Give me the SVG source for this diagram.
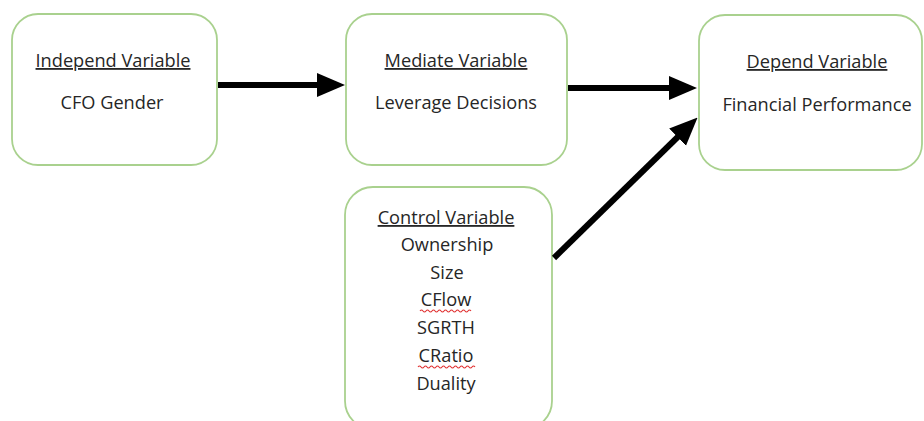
<svg xmlns="http://www.w3.org/2000/svg" width="924" height="421" viewBox="0 0 924 421">
<style>
.box{fill:#fff;stroke:#a9d18e;stroke-width:1.8}
.t{font-family:"Open Sans","Liberation Sans",sans-serif;font-size:18.2px;fill:#262626;text-anchor:middle}
.h{text-decoration:underline}
.c{stroke:#000;stroke-width:6;fill:none}
.sq{stroke:#e03030;stroke-width:1.1;fill:none}
</style>
<defs>
<marker id="ah" markerUnits="userSpaceOnUse" markerWidth="28" markerHeight="28" viewBox="0 0 28 28" refX="16" refY="14" orient="auto">
<path d="M0,2 L28,14 L0,26 Z" fill="#000"/>
</marker>
</defs>
<rect width="924" height="421" fill="#fff"/>
<g id="independ">
<rect class="box" x="12" y="14" width="205" height="151" rx="26"/>
<text class="t h" x="113" y="67">Independ Variable</text>
<text class="t" x="112" y="109">CFO Gender</text>
</g>
<g id="mediate">
<rect class="box" x="346" y="14" width="221" height="151" rx="26"/>
<text class="t h" x="456" y="67">Mediate Variable</text>
<text class="t" x="456" y="109">Leverage Decisions</text>
</g>
<g id="depend">
<rect class="box" x="699" y="15" width="223" height="155" rx="26"/>
<text class="t h" x="817" y="68">Depend Variable</text>
<text class="t" x="817" y="111">Financial Performance</text>
</g>
<g id="control">
<rect class="box" x="345" y="187" width="207" height="242" rx="28"/>
<text class="t h" x="446" y="224">Control Variable</text>
<text class="t" x="447" y="251">Ownership</text>
<text class="t" x="447" y="279">Size</text>
<text class="t" x="446" y="306">CFlow</text>
<path class="sq" d="M420,311 q1.5,-2 3,0 t3,0 t3,0 t3,0 t3,0 t3,0 t3,0 t3,0 t3,0 t3,0 t3,0 t3,0 t3,0 t3,0 t3,0 t3,0 t3,0"/>
<text class="t" x="446" y="334">SGRTH</text>
<text class="t" x="446" y="362">CRatio</text>
<path class="sq" d="M418,367 q1.5,-2 3,0 t3,0 t3,0 t3,0 t3,0 t3,0 t3,0 t3,0 t3,0 t3,0 t3,0 t3,0 t3,0 t3,0 t3,0 t3,0 t3,0 t3,0 t3,0"/>
<text class="t" x="446" y="390">Duality</text>
</g>
<g id="connectors">
<line class="c" x1="218" y1="85" x2="333" y2="85" marker-end="url(#ah)"/>
<line class="c" x1="568" y1="88" x2="685" y2="88" marker-end="url(#ah)"/>
<line class="c" x1="554" y1="258" x2="689" y2="126" marker-end="url(#ah)"/>
</g>
</svg>
